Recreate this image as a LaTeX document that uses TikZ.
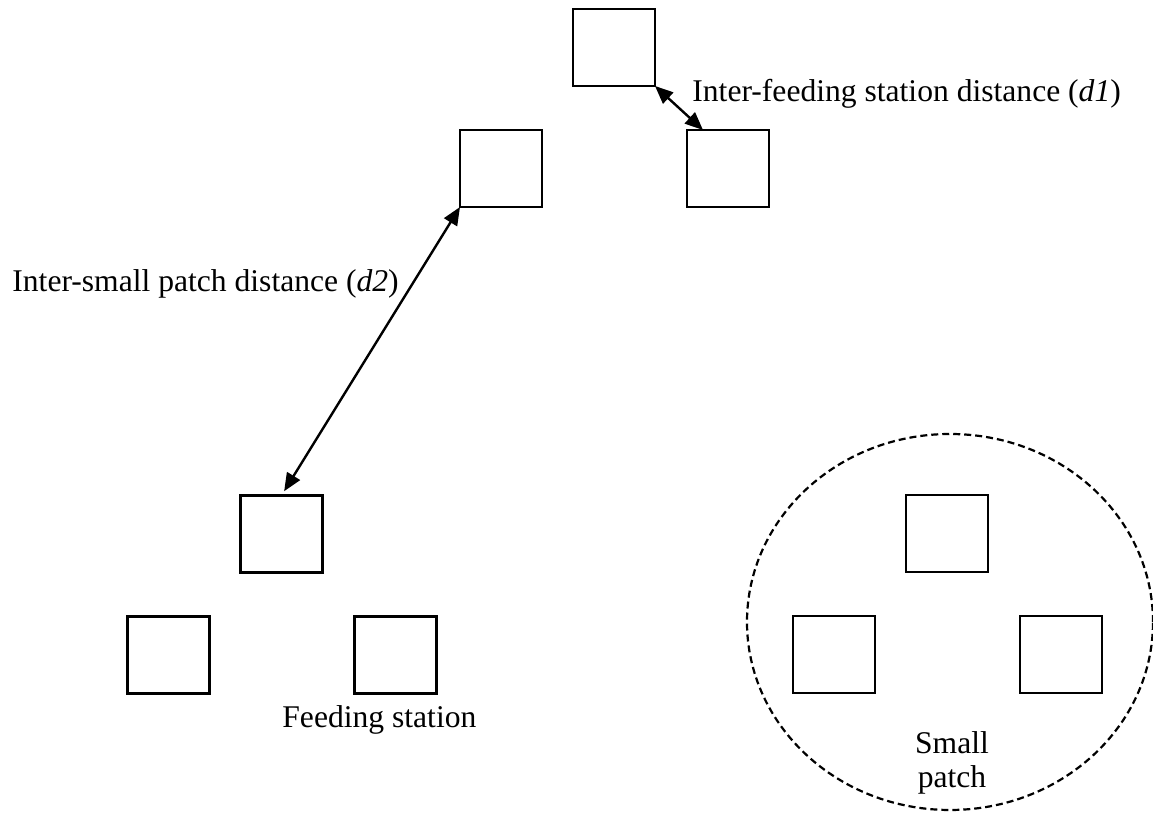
\documentclass[tikz,border=0pt]{standalone}
\usepackage{fontspec}
\setmainfont{Liberation Serif}
\usepackage{tikz}
\usetikzlibrary{arrows.meta, positioning, shapes.geometric}

\begin{document}
\begin{tikzpicture}[
    x=0.5pt, y=0.5pt,
    station/.style={rectangle, draw, line width=1.3pt, outer sep=0pt,
                    minimum width=41pt, minimum height=38.5pt},
    arr/.style={{Triangle[length=9pt, width=7.5pt]}-{Triangle[length=9pt, width=7.5pt]},
                line width=1.2pt},
    patchring/.style={ellipse, draw, dash pattern=on 3.5pt off 2pt,
                      line width=1.1pt, inner sep=0pt,
                      minimum width=203pt, minimum height=188pt},
    lbl/.style={font=\fontsize{15.8}{17}\selectfont, inner sep=0pt, align=center},
    node distance=22pt and 15.5pt
  ]
    \useasboundingbox (0,0) rectangle (1153,814);

    % patch at the top
    \node[station] (pa) at (614,766.5) {};
    \node[station, below left=of pa]  (pal) {};
    \node[station, below right=22pt and 16pt of pa] (par) {};

    % patch at the bottom left
    \node[station] (pb) at (281.5,280) {};
    \node[station, below left=of pb]  (pbl) {};
    \node[station, below right=22pt and 16pt of pb] (pbr) {};

    % patch in the ring
    \node[station] (pc) at (947,280.5) {};
    \node[station, below left=of pc]  (pcl) {};
    \node[station, below right=22pt and 16pt of pc] (pcr) {};
    \node[patchring] (ring) at (950,192) {};

    \draw[arr] (pa.south east) -- ([xshift=8pt]par.north west);
    \draw[arr, shorten >=2.5pt] (pal.south west) -- (pb.north);

    \node[lbl, anchor=base west] (d1) at (692,712) {Inter-feeding station distance (\textit{d1})};
    \node[lbl, anchor=base west] (d2) at (12,522)  {Inter-small patch distance (\textit{d2})};
    \node[lbl, anchor=base west] (fs) at (282,86)  {Feeding station};
    \node[lbl] (sp) at (952,51) {Small\\patch};
  \end{tikzpicture}
\end{document}
